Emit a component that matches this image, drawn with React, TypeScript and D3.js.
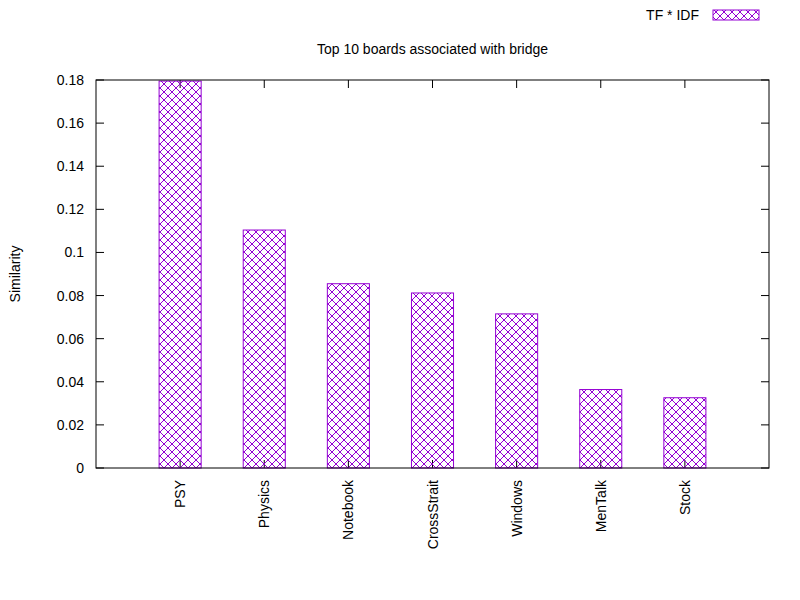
import React from 'react';
import * as d3 from 'd3';

const boards = ['PSY', 'Physics', 'Notebook', 'CrossStrait', 'Windows', 'MenTalk', 'Stock'];
const similarity = [0.1795, 0.1104, 0.0855, 0.0812, 0.0715, 0.0364, 0.0326];
const yTicks = [0, 0.02, 0.04, 0.06, 0.08, 0.1, 0.12, 0.14, 0.16, 0.18];

const W = 800, H = 600;
const left = 96, right = 769, top = 80, bottom = 468;
const color = '#9400d3';
const font = 'Liberation Sans, Arial, sans-serif';

export default function App() {
  const x = d3.scaleLinear().domain([-1, 7]).range([left, right]);
  const y = d3.scaleLinear().domain([0, 0.18]).range([bottom, top]);
  const bw = (x(1) - x(0)) * 0.5;
  return (
    <svg width={W} height={H} style={{ position: 'absolute', left: 0, top: 0, background: '#fff' }} fontFamily={font} fontSize={14}>
      <defs>
        <pattern id="hatch" patternUnits="userSpaceOnUse" width={8} height={8}>
          <path d="M0,0 L8,8 M8,0 L0,8" stroke={color} strokeWidth={1} />
        </pattern>
      </defs>
      <rect x={0} y={0} width={W} height={H} fill="#fff" />
      {yTicks.map(t => (
        <g key={t}>
          <line x1={left} x2={left + 8} y1={y(t)} y2={y(t)} stroke="#000" />
          <line x1={right - 8} x2={right} y1={y(t)} y2={y(t)} stroke="#000" />
          <text x={left - 12} y={y(t) + 5} textAnchor="end">{d3.format('~g')(t)}</text>
        </g>
      ))}
      {boards.map((b, i) => (
        <g key={b}>
          <line x1={x(i)} x2={x(i)} y1={bottom} y2={bottom - 8} stroke="#000" />
          <line x1={x(i)} x2={x(i)} y1={top} y2={top + 8} stroke="#000" />
          <rect x={x(i) - bw / 2} y={y(similarity[i])} width={bw} height={bottom - y(similarity[i])}
            fill="url(#hatch)" stroke={color} strokeWidth={1} />
          <text transform={`translate(${x(i) + 5},${bottom + 12}) rotate(-90)`} textAnchor="end">{b}</text>
        </g>
      ))}
      <rect x={left} y={top} width={right - left} height={bottom - top} fill="none" stroke="#000" />
      <text x={(left + right) / 2} y={54} textAnchor="middle">Top 10 boards associated with bridge</text>
      <text transform={`translate(20,${(top + bottom) / 2}) rotate(-90)`} textAnchor="middle">Similarity</text>
      <text x={699} y={20} textAnchor="end">TF * IDF</text>
      <rect x={713} y={10} width={46} height={10} fill="url(#hatch)" stroke={color} />
    </svg>
  );
}
